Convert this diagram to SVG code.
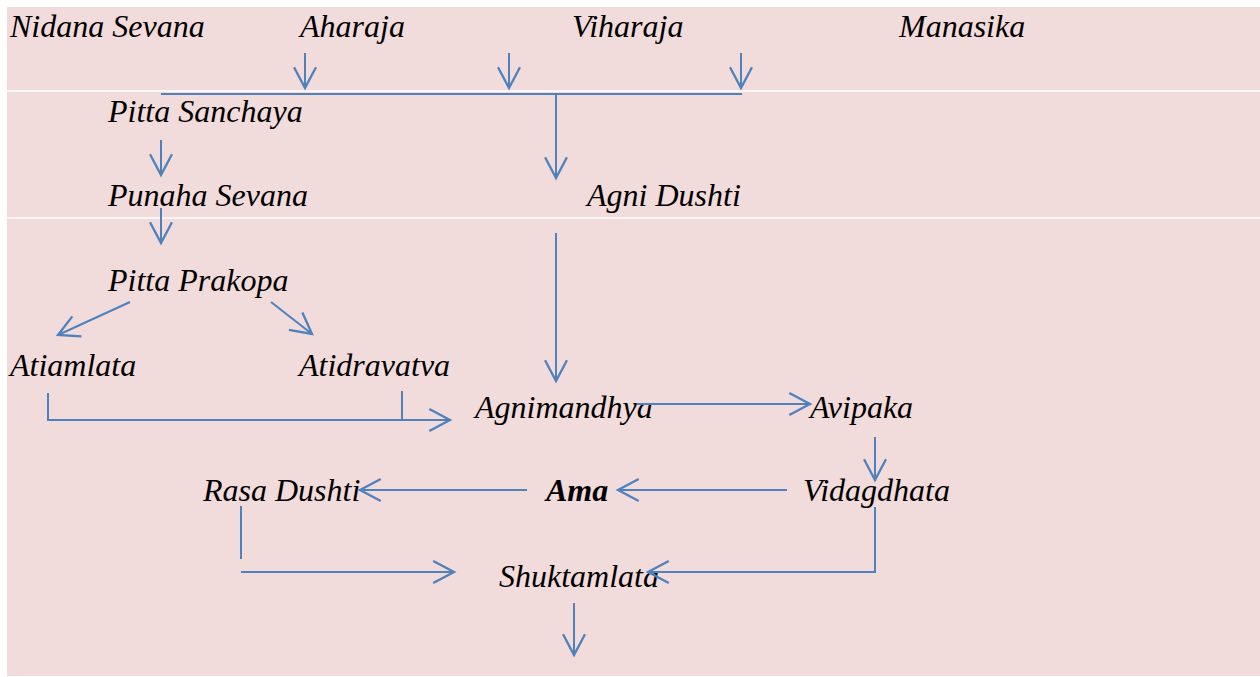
<svg xmlns="http://www.w3.org/2000/svg" width="1260" height="677" viewBox="0 0 1260 677">
<defs>
<style>
text{font-family:'Liberation Serif','Times New Roman',serif;font-style:italic;font-size:32px;fill:#000}
.b{font-weight:bold}
.c{stroke:#4F81BD;stroke-width:2;fill:none}
.a{marker-end:url(#h)}
</style>
<marker id="h" markerUnits="userSpaceOnUse" markerWidth="30" markerHeight="30" viewBox="-22 -12 26 24" refX="0" refY="0" orient="auto">
<path d="M-18,-9.5 L0,0 L-18,9.5" fill="none" stroke="#4F81BD" stroke-width="2"/>
</marker>
</defs>
<rect x="0" y="0" width="1260" height="677" fill="#fff"/>
<rect x="7" y="7" width="1253" height="669" fill="#F2DBDB"/>
<line x1="7" y1="91" x2="1260" y2="91" stroke="#fff" stroke-width="1.5"/>
<line x1="7" y1="218" x2="1260" y2="218" stroke="#fff" stroke-width="1.5"/>

<g id="n-nidana"><text x="10" y="37">Nidana Sevana</text></g>
<g id="n-aharaja"><text x="300" y="37">Aharaja</text></g>
<g id="n-viharaja"><text x="572" y="37">Viharaja</text></g>
<g id="n-manasika"><text x="899" y="37">Manasika</text></g>
<g id="n-sanchaya"><text x="108" y="122">Pitta Sanchaya</text></g>
<g id="n-punaha"><text x="108" y="206">Punaha Sevana</text></g>
<g id="n-agnidushti"><text x="587" y="206">Agni Dushti</text></g>
<g id="n-prakopa"><text x="108" y="291">Pitta Prakopa</text></g>
<g id="n-atiamlata"><text x="10" y="376">Atiamlata</text></g>
<g id="n-atidravatva"><text x="299" y="376">Atidravatva</text></g>
<g id="n-agnimandhya"><text x="475" y="418">Agnimandhya</text></g>
<g id="n-avipaka"><text x="810" y="418">Avipaka</text></g>
<g id="n-vidagdhata"><text x="803" y="501">Vidagdhata</text></g>
<g id="n-ama"><text class="b" x="546" y="501">Ama</text></g>
<g id="n-rasadushti"><text x="203" y="501">Rasa Dushti</text></g>
<g id="n-shuktamlata"><text x="499" y="587">Shuktamlata</text></g>

<g id="connectors">
<line class="c a" x1="305" y1="53" x2="305" y2="88"/>
<line class="c a" x1="509" y1="53" x2="509" y2="88"/>
<line class="c a" x1="741" y1="53" x2="741" y2="88"/>
<line class="c" x1="161" y1="94" x2="742" y2="94"/>
<line class="c a" x1="556" y1="94" x2="556" y2="178"/>
<line class="c a" x1="161" y1="140" x2="161" y2="175"/>
<line class="c a" x1="161" y1="208" x2="161" y2="243"/>
<line class="c a" x1="556" y1="233" x2="556" y2="381"/>
<line class="c a" x1="130" y1="302" x2="58" y2="335"/>
<line class="c a" x1="271" y1="302" x2="312" y2="334"/>
<polyline class="c a" points="48,393 48,420 450,420"/>
<line class="c" x1="402" y1="391" x2="402" y2="420"/>
<line class="c a" x1="637" y1="404" x2="810" y2="404"/>
<line class="c a" x1="875" y1="437" x2="875" y2="480"/>
<line class="c a" x1="787" y1="490" x2="618" y2="490"/>
<line class="c a" x1="527" y1="490" x2="360" y2="490"/>
<line class="c" x1="241" y1="506" x2="241" y2="559"/>
<line class="c a" x1="241" y1="572" x2="454" y2="572"/>
<polyline class="c a" points="875,507 875,559 875,572 648,572"/>
<line class="c a" x1="574" y1="603" x2="574" y2="655"/>
</g>
</svg>
